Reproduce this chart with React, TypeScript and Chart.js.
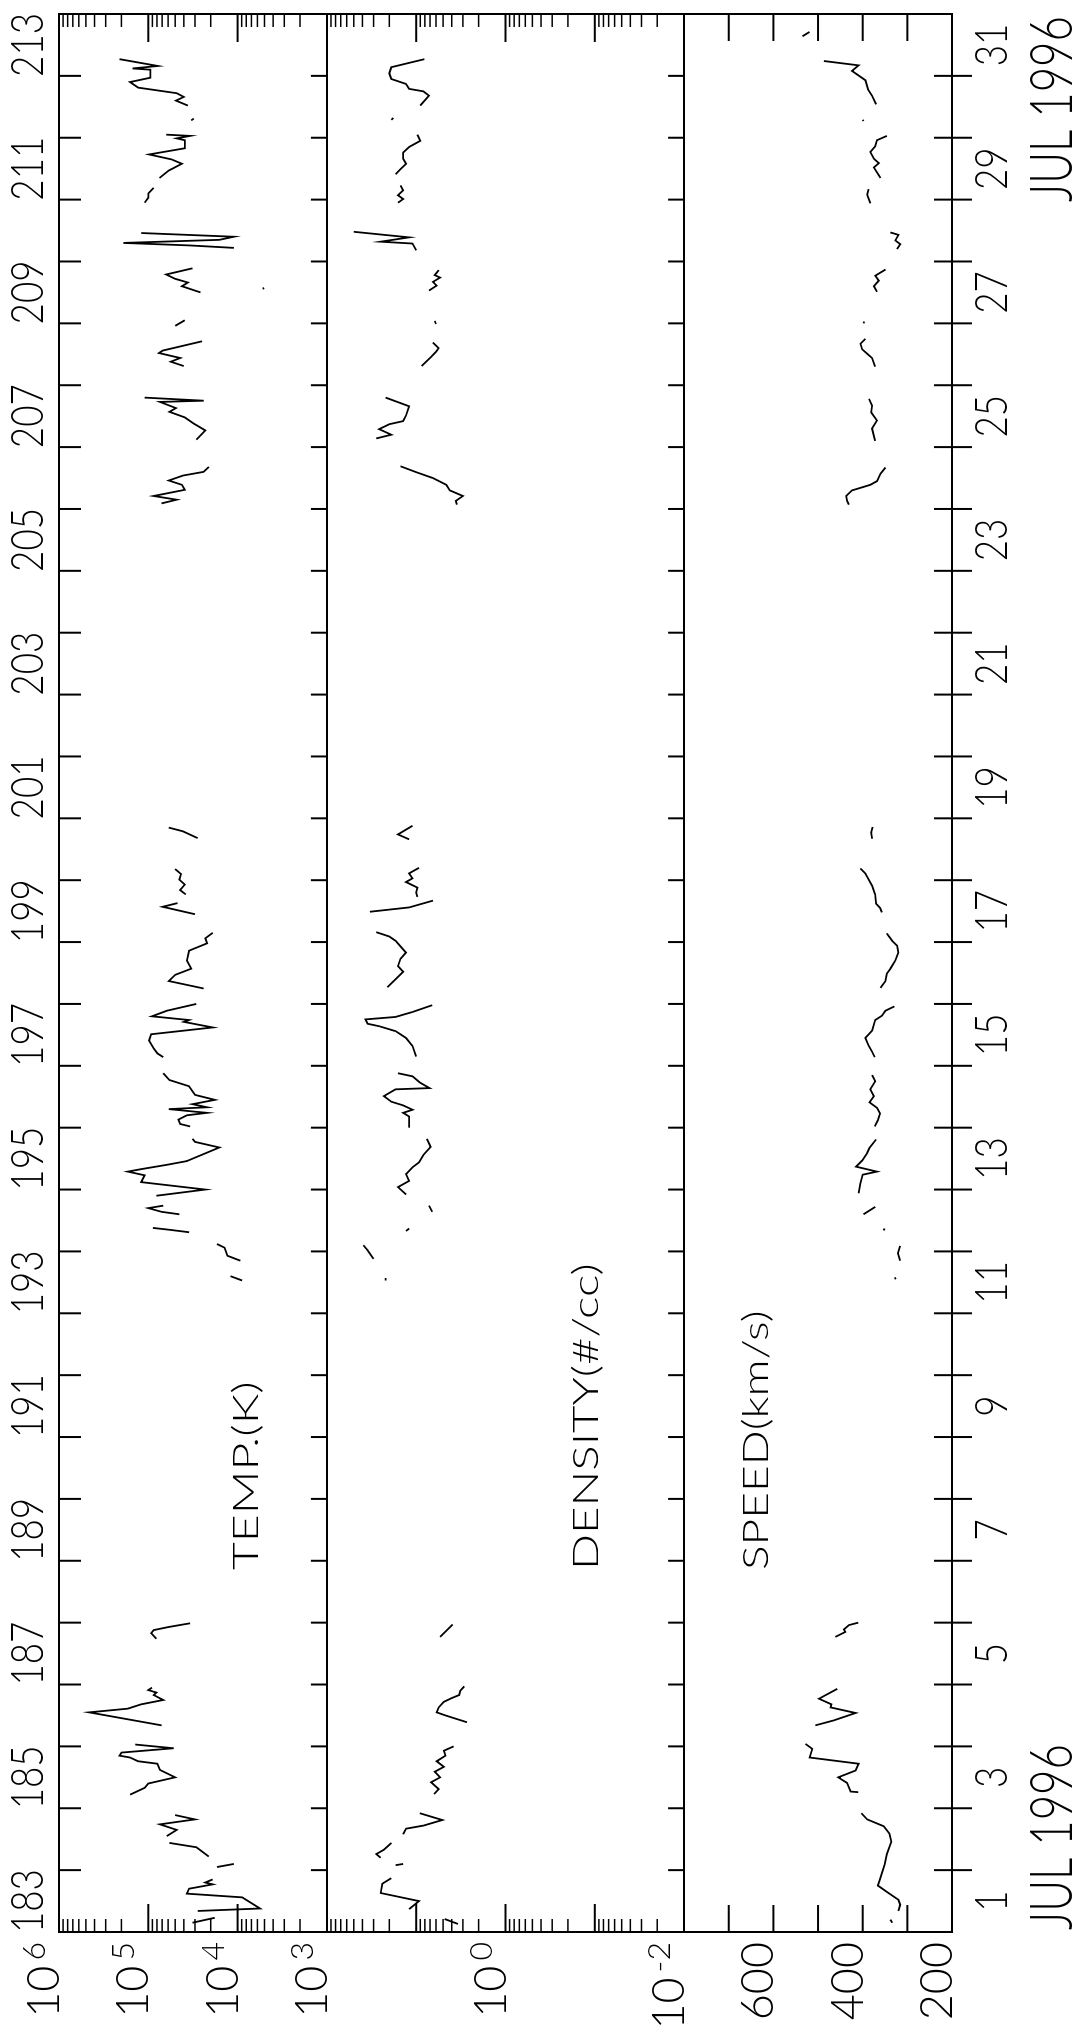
import React, { useEffect, useRef } from "react";
import { Chart, registerables } from "chart.js";

Chart.register(...registerables);

// ---------------- axis values ----------------
const dayStart = 183; // 1 Jul 1996 00:00 (day of year)
const dayEnd = 214; // 1 Aug 1996 00:00
const labelDays = [183, 185, 187, 189, 191, 193, 195, 197, 199, 201, 203, 205, 207, 209, 211, 213];
const doyLabels = ["183", "185", "187", "189", "191", "193", "195", "197", "199", "201", "203", "205", "207", "209", "211", "213"];
const dateLabels = ["1", "3", "5", "7", "9", "11", "13", "15", "17", "19", "21", "23", "25", "27", "29", "31"];
const monthLabel = "JUL 1996";

const tempRange = [1e3, 1e6];
const densityRange = [1e-2, 1e2];
const speedRange = [200, 800];

const tempTickValues = [1e6, 1e5, 1e4, 1e3];
const tempTickExps = ["6", "5", "4", "3"];
const densityTickValues = [1, 1e-2];
const densityTickExps = ["0", "-2"];
const speedTickValues = [600, 400, 200];
const speedTickLabels = ["600", "400", "200"];
const speedTickMarks = [300, 400, 500, 600, 700];

const panelTitles = ["TEMP.(K)", "DENSITY(#/cc)", "SPEED(km/s)"];

// ---------------- data (day of year, value); null = data gap ----------------
const tempDays = [
  183.15, 183.23, null,
  183.34, 183.38, 183.56, 183.62, 183.70, 183.77, 183.80, 183.85, null,
  184.05, 184.10, null,
  184.22, 184.37, 184.44, null,
  184.55, 184.65, 184.74, 184.82, 184.89, null,
  185.22, 185.33, 185.40, 185.50, 185.62, 185.72, 185.76, 185.82, 185.85, 185.90, 185.97, 186.03, null,
  186.34, 186.55, 186.61, 186.68, 186.75, 186.83, 186.87, 186.91, 186.95, null,
  187.74, 187.83, 187.88, 187.93, 187.99, null,
  193.53, 193.60, null,
  193.85, 193.93, 194.06, 194.12, null,
  194.31, 194.35, 194.38, null,
  194.60, 194.64, 194.70, 194.74, null,
  194.90, 195.00, 195.12, 195.23, 195.29, 195.33, 195.40, 195.46, 195.68, 195.77, 195.82, null,
  196.02, 196.06, 196.13, 196.20, 196.24, 196.30, 196.33, 196.38, 196.45, 196.53, 196.67, 196.77, 196.88, null,
  197.14, 197.20, 197.28, 197.41, 197.51, 197.62, 197.71, 197.74, 197.80, 197.89, 198.00, null,
  198.25, 198.37, 198.47, 198.57, 198.70, 198.86, 198.98, 199.06, 199.15, null,
  199.45, 199.57, 199.63, null,
  199.77, 199.84, 199.93, 200.01, 200.10, 200.18, null,
  200.68, 200.79, 200.85, null,
  206.09, 206.15, 206.21, 206.31, 206.39, 206.46, 206.54, 206.60, 206.68, null,
  207.12, 207.27, 207.38, 207.48, 207.57, 207.63, 207.73, 207.75, 207.80, null,
  208.31, 208.38, 208.44, 208.52, 208.56, 208.71, null,
  208.96, 209.05, null,
  209.50, 209.60, 209.66, 209.72, 209.79, 209.89, null,
  209.55, 209.58, null,
  210.22, 210.26, 210.30, 210.35, 210.40, 210.46, null,
  210.95, 211.03, 211.10, 211.19, null,
  211.35, 211.47, 211.58, 211.65, 211.73, 211.83, 211.96, 211.99, 212.03, 212.05, null,
  212.28, 212.31, null,
  212.52, 212.60, 212.66, 212.72, 212.81, 212.90, 212.97, 213.10, 213.12, 213.16, 213.27,
];
const tempKelvin = [
  32000, 18000, null,
  28000, 5600, 8900, 37000, 35000, 19000, 23000, 19000, null,
  17000, 11000, null,
  21000, 29000, 58000, null,
  62000, 48000, 74000, 30000, 50000, null,
  160000, 110000, 100000, 50000, 74000, 79000, 130000, 160000, 210000, 200000, 52000, 140000, null,
  71000, 460000, 170000, 120000, 68000, 87000, 81000, 100000, 91000, null,
  81000, 93000, 87000, 59000, 34000, null,
  8900, 12000, null,
  9300, 13000, 14000, 17000, null,
  35000, 58000, 89000, null,
  45000, 71000, 100000, 68000, null,
  81000, 23000, 120000, 110000, 170000, 120000, 62000, 37000, 16000, 30000, 32000, null,
  34000, 44000, 46000, 37000, 22000, 59000, 22000, 32000, 18000, 30000, 35000, 58000, 68000, null,
  68000, 79000, 87000, 98000, 93000, 19000, 40000, 35000, 91000, 62000, 29000, null,
  24000, 59000, 50000, 33000, 37000, 35000, 22000, 23000, 19000, null,
  30000, 69000, 47000, null,
  38000, 44000, 39000, 45000, 43000, 50000, null,
  28000, 41000, 59000, null,
  71000, 48000, 87000, 39000, 42000, 59000, 41000, 24000, 21000, null,
  29000, 23000, 31000, 39000, 58000, 49000, 74000, 24000, 110000, null,
  40000, 56000, 44000, 76000, 69000, 25000, null,
  50000, 39000, null,
  26000, 42000, 36000, 50000, 63000, 32000, null,
  5100, 5200, null,
  11000, 35000, 190000, 16000, 11000, 120000, null,
  110000, 100000, 100000, 87000, null,
  75000, 59000, 42000, 55000, 98000, 39000, 39000, 48000, 34000, 63000, null,
  33000, 31000, null,
  36000, 49000, 40000, 48000, 130000, 160000, 95000, 95000, 150000, 78000, 210000,
];

const densityDays = [
  183.13, 183.21, null,
  183.37, 183.50, 183.63, 183.78, 183.87, null,
  184.08, 184.10, null,
  184.20, 184.26, 184.33, 184.44, null,
  184.58, 184.67, 184.72, 184.81, 184.92, null,
  185.23, 185.31, 185.42, 185.50, 185.59, 185.67, 185.76, 185.85, 185.93, 186.00, null,
  186.39, 186.50, 186.55, 186.63, 186.72, 186.78, 186.83, 186.90, 186.97, null,
  187.77, 187.97, null,
  193.53, 193.57, null,
  193.88, 194.02, 194.10, null,
  194.33, 194.37, null,
  194.64, 194.74, null,
  194.92, 195.04, 195.14, 195.25, 195.36, 195.44, 195.56, 195.69, 195.82, null,
  196.00, 196.18, 196.24, 196.29, 196.36, 196.42, 196.51, 196.62, 196.64, 196.73, 196.83, 196.88, null,
  197.15, 197.32, 197.45, 197.56, 197.64, 197.68, 197.75, 197.79, 197.87, 197.98, null,
  198.27, 198.40, 198.52, 198.61, 198.73, 198.83, 198.93, 199.02, 199.09, 199.16, null,
  199.49, 199.56, 199.67, null,
  199.73, 199.80, 199.88, 199.97, 200.03, 200.11, 200.20, null,
  200.66, 200.74, 200.88, null,
  206.07, 206.13, 206.21, 206.30, 206.39, 206.50, 206.59, 206.69, null,
  207.14, 207.20, 207.29, 207.37, 207.42, 207.51, 207.66, 207.80, null,
  208.31, 208.45, 208.54, 208.60, 208.69, null,
  208.99, 209.04, null,
  209.53, 209.61, 209.67, 209.74, 209.78, 209.86, null,
  210.18, 210.29, 210.32, 210.39, 210.48, null,
  210.95, 211.01, 211.07, 211.15, 211.23, null,
  211.41, 211.49, 211.58, 211.66, 211.76, 211.85, 211.95, 212.05, null,
  212.29, 212.32, null,
  212.52, 212.68, 212.75, 212.79, 212.87, 212.95, 213.04, 213.14, 213.27,
];
const densityPerCc = [
  3.4, 4.8, null,
  12, 9.3, 25, 24, 19, null,
  17, 14, null,
  25, 28, 23, 19, null,
  14, 13, 8.3, 5.1, 9.1, null,
  6.3, 5.6, 6.8, 5.4, 6.2, 4.9, 5.9, 4.7, 4.9, 3.8, null,
  2.7, 4.7, 5.9, 5.6, 4.9, 4.0, 3.3, 3.2, 2.9, null,
  5.4, 3.9, null,
  22, 22, null,
  30, 35, 39, null,
  13, 12, null,
  6.6, 7.2, null,
  13, 16, 12, 13, 11, 9.3, 8.3, 6.9, 7.6, null,
  12, 12, 14, 11, 14, 19, 23, 17, 7.1, 9.1, 11, 16, null,
  10, 11, 13, 17, 26, 35, 37, 17, 11, 6.6, null,
  21, 17, 14, 16, 15, 13, 15, 17, 20, 28, null,
  33, 12, 6.5, null,
  9.7, 10, 9.7, 13, 11, 12, 9.3, null,
  12, 16, 11, null,
  3.5, 3.6, 3.0, 4.2, 4.6, 6.5, 9.8, 15, null,
  28, 19, 26, 20, 14, 13, 12, 22, null,
  8.7, 6.9, 6.0, 5.6, 6.5, null,
  6.0, 6.2, null,
  7.2, 5.9, 6.5, 5.4, 6.2, 5.6, null,
  10, 11, 25, 12, 50, null,
  16, 14, 16, 14, 15, null,
  17, 15, 13, 14, 14, 12, 9.0, 9.7, null,
  19, 18, null,
  9.0, 7.2, 8.3, 12, 13, 19, 20, 19, 8.1,
];

const speedDays = [
  183.15, 183.20, null,
  183.34, 183.44, 183.52, 183.63, 183.75, 183.86, 184.04, 184.09, 184.26, 184.46, 184.59, 184.71, 184.82, 184.92, null,
  185.26, 185.27, 185.41, 185.50, 185.61, 185.72, 185.82, 185.96, 186.04, null,
  186.34, 186.42, 186.54, 186.63, 186.68, 186.77, 186.93, null,
  187.77, 187.85, 187.89, 187.96, 188.00, null,
  193.55, 193.58, null,
  193.85, 193.97, 194.09, null,
  194.34, 194.37, null,
  194.60, 194.72, null,
  194.94, 195.10, 195.24, 195.29, 195.37, 195.47, 195.59, 195.67, 195.81, null,
  196.02, 196.12, 196.23, 196.32, 196.41, 196.51, 196.62, 196.75, 196.85, null,
  197.14, 197.23, 197.33, 197.45, 197.57, 197.74, 197.81, 197.89, 197.96, null,
  198.26, 198.37, 198.49, 198.57, 198.70, 198.83, 198.94, 199.02, 199.14, null,
  199.48, 199.55, 199.62, 199.77, 199.91, 200.03, 200.11, 200.19, null,
  200.67, 200.77, 200.86, null,
  206.07, 206.13, 206.21, 206.30, 206.39, 206.45, 206.57, 206.67, null,
  207.10, 207.30, 207.43, 207.56, 207.67, 207.78, null,
  208.30, 208.44, 208.51, 208.58, 208.67, 208.75, null,
  209.00, 209.03, null,
  209.51, 209.60, 209.69, 209.77, 209.87, null,
  210.20, 210.28, 210.34, 210.43, 210.47, null,
  210.94, 211.08, 211.17, null,
  211.35, 211.44, 211.52, 211.59, 211.66, 211.77, 211.86, 211.96, 212.03, null,
  212.27, 212.29, null,
  212.54, 212.68, 212.78, 212.93, 213.08, 213.17, 213.24, null,
  213.64, 213.71,
];
const speedKms = [
  334, 338, null,
  320, 316, 320, 342, 366, 361, 353, 351, 346, 336, 340, 353, 390, 403, null,
  410, 427, 435, 455, 416, 409, 519, 513, 528, null,
  506, 465, 416, 472, 470, 498, 457, null,
  461, 439, 442, 431, 410, null,
  326, 328, null,
  316, 321, 316, null,
  353, 351, null,
  398, 372, null,
  409, 405, 400, 368, 415, 401, 390, 385, 370, null,
  373, 366, 361, 368, 385, 375, 383, 372, 379, null,
  373, 379, 387, 394, 379, 372, 357, 349, 329, null,
  360, 349, 346, 338, 327, 320, 323, 334, 346, null,
  357, 361, 370, 372, 379, 388, 394, 405, null,
  379, 381, 378, null,
  431, 435, 437, 424, 383, 368, 360, 349, null,
  372, 379, 368, 381, 379, 386, null,
  372, 379, 390, 401, 405, 394, null,
  398, 397, null,
  368, 375, 364, 372, 349, null,
  323, 316, 327, 320, 338, null,
  383, 390, 387, null,
  360, 368, 375, 364, 375, 383, 372, 368, 346, null,
  398, 400, null,
  370, 379, 388, 394, 424, 409, 487, null,
  535, 519,
];

// ---------------- helpers ----------------
const CANVAS_W = 2028;
const CANVAS_H = 1073;
const FONT = 'Lato, "DejaVu Sans", sans-serif';

function toXY(days: (number | null)[], vals: (number | null)[]) {
  const out: { x: number; y: number | null }[] = [];
  let last = dayStart;
  const n = Math.min(days.length, vals.length);
  for (let i = 0; i < n; i++) {
    const d = days[i];
    const v = vals[i];
    if (d === null || v === null) out.push({ x: last, y: null });
    else {
      out.push({ x: d, y: v });
      last = d;
    }
  }
  return out;
}

function setFont(ctx: CanvasRenderingContext2D, size: number) {
  ctx.font = `300 ${size}px ${FONT}`;
}

function measure(ctx: CanvasRenderingContext2D, text: string, size: number) {
  ctx.save();
  setFont(ctx, size);
  const w = ctx.measureText(text).width;
  ctx.restore();
  return w;
}

// draws text squeezed horizontally by sx; if fitWidth is given, sx is chosen so the text spans it
function drawText(
  ctx: CanvasRenderingContext2D,
  text: string,
  x: number,
  y: number,
  size: number,
  sx: number,
  align: "left" | "right" | "center",
  fitWidth?: number
) {
  const raw = measure(ctx, text, size);
  const s = fitWidth ? fitWidth / raw : sx;
  const w = raw * s;
  let x0 = x;
  if (align === "center") x0 = x - w / 2;
  else if (align === "right") x0 = x - w;
  ctx.save();
  setFont(ctx, size);
  ctx.textAlign = "left";
  ctx.textBaseline = "alphabetic";
  ctx.translate(x0, y);
  ctx.scale(s, 1);
  ctx.fillStyle = "#000";
  ctx.fillText(text, 0, 0);
  ctx.restore();
  return w;
}

function drawPowerLabel(ctx: CanvasRenderingContext2D, exp: string, rightX: number, baseY: number) {
  const bSize = 45, eSize = 32, gap = 5;
  const wb = measure(ctx, "10", bSize);
  const we = measure(ctx, exp, eSize);
  const start = rightX - wb - we - gap;
  drawText(ctx, "10", start, baseY, bSize, 1, "left");
  drawText(ctx, exp, start + wb + gap, baseY - 14, eSize, 1, "left");
}

const framePlugin = {
  id: "plotFrame",
  beforeDraw(chart: any) {
    const ctx = chart.ctx as CanvasRenderingContext2D;
    ctx.save();
    ctx.fillStyle = "#fff";
    ctx.fillRect(0, 0, chart.width, chart.height);
    ctx.restore();
  },
  afterDraw(chart: any) {
    const ctx = chart.ctx as CanvasRenderingContext2D;
    const a = chart.chartArea;
    const xs = chart.scales.x;
    const yT = chart.scales.yTemp;
    const yD = chart.scales.yDensity;
    const yS = chart.scales.ySpeed;
    const line = (x1: number, y1: number, x2: number, y2: number, w = 2) => {
      ctx.lineWidth = w;
      ctx.beginPath();
      ctx.moveTo(x1, y1);
      ctx.lineTo(x2, y2);
      ctx.stroke();
    };
    ctx.save();
    ctx.strokeStyle = "#000";
    ctx.lineCap = "butt";

    // frame and panel separators
    ctx.lineWidth = 2;
    ctx.strokeRect(a.left, a.top, a.right - a.left, a.bottom - a.top);
    line(a.left, yT.bottom, a.right, yT.bottom);
    line(a.left, yD.bottom, a.right, yD.bottom);

    // day ticks
    for (let d = dayStart + 1; d < dayEnd; d++) {
      const px = xs.getPixelForValue(d);
      line(px, a.top, px, a.top + 22);
      line(px, yT.bottom, px, yT.bottom - 16);
      line(px, yD.bottom, px, yD.bottom - 16);
      line(px, a.bottom - 18, px, a.bottom + 20);
    }

    // logarithmic ticks (both sides)
    const logTicks = (scale: any, lo: number, hi: number) => {
      const e0 = Math.round(Math.log10(lo));
      const e1 = Math.round(Math.log10(hi));
      for (let e = e0; e < e1; e++) {
        for (let k = 1; k <= 9; k++) {
          if (e === e0 && k === 1) continue;
          const v = k * Math.pow(10, e);
          const py = scale.getPixelForValue(v);
          const major = k === 1;
          const len = major ? 28 : 13;
          const w = major ? 2 : 1.5;
          line(a.left, py, a.left + len, py, w);
          line(a.right, py, a.right - len, py, w);
        }
      }
    };
    logTicks(yT, tempRange[0], tempRange[1]);
    logTicks(yD, densityRange[0], densityRange[1]);
    for (const v of speedTickMarks) {
      const py = yS.getPixelForValue(v);
      line(a.left, py, a.left + 27, py);
      line(a.right, py, a.right - 27, py);
    }
    ctx.restore();

    // ---- text ----
    labelDays.forEach((d, i) => {
      const px = xs.getPixelForValue(d + 0.5);
      drawText(ctx, doyLabels[i], px, 43, 46, 0.8, "center");
      drawText(ctx, dateLabels[i], px, 1007, 46, 0.8, "center");
    });
    drawText(ctx, monthLabel, a.left + 2, 1072, 60, 1, "left", 186);
    drawText(ctx, monthLabel, a.right - 2, 1072, 60, 1, "right", 186);

    const labelRight = 86;
    tempTickValues.forEach((v, i) => drawPowerLabel(ctx, tempTickExps[i], labelRight, yT.getPixelForValue(v)));
    densityTickValues.forEach((v, i) => drawPowerLabel(ctx, densityTickExps[i], labelRight, yD.getPixelForValue(v)));
    speedTickValues.forEach((v, i) =>
      drawText(ctx, speedTickLabels[i], labelRight, yS.getPixelForValue(v), 45, 1, "right")
    );

    const titleX = xs.getPixelForValue(188.85);
    const adv = 23.6;
    drawText(ctx, panelTitles[0], titleX, yT.bottom - 69, 35, 1, "left", adv * panelTitles[0].length);
    drawText(ctx, panelTitles[1], titleX, yD.bottom - 86, 35, 1, "left", adv * panelTitles[1].length);
    drawText(ctx, panelTitles[2], titleX, yS.top + 84, 35, 1, "left", adv * panelTitles[2].length);
  },
};

export default function App() {
  const ref = useRef<HTMLCanvasElement | null>(null);
  useEffect(() => {
    if (!ref.current) return;
    const lineStyle = {
      borderColor: "#000",
      borderWidth: 1.8,
      pointRadius: 0,
      pointHoverRadius: 0,
      spanGaps: false,
      tension: 0,
      fill: false,
    };
    const chart = new Chart(ref.current, {
      type: "line",
      data: {
        datasets: [
          { ...lineStyle, label: panelTitles[0], data: toXY(tempDays, tempKelvin), yAxisID: "yTemp" },
          { ...lineStyle, label: panelTitles[1], data: toXY(densityDays, densityPerCc), yAxisID: "yDensity" },
          { ...lineStyle, label: panelTitles[2], data: toXY(speedDays, speedKms), yAxisID: "ySpeed" },
        ],
      } as any,
      options: {
        responsive: false,
        animation: false,
        devicePixelRatio: 1,
        events: [],
        layout: { autoPadding: false, padding: { left: 96, right: 14, top: 59, bottom: 121 } },
        plugins: { legend: { display: false }, tooltip: { enabled: false }, title: { display: false } },
        scales: {
          x: { type: "linear", min: dayStart, max: dayEnd, display: false },
          ySpeed: {
            type: "linear", min: speedRange[0], max: speedRange[1], display: false,
            position: "left", stack: "panels", stackWeight: 3, weight: 1,
          },
          yDensity: {
            type: "logarithmic", min: densityRange[0], max: densityRange[1], display: false,
            position: "left", stack: "panels", stackWeight: 4, weight: 2,
          },
          yTemp: {
            type: "logarithmic", min: tempRange[0], max: tempRange[1], display: false,
            position: "left", stack: "panels", stackWeight: 3, weight: 3,
          },
        },
      } as any,
      plugins: [framePlugin],
    });
    return () => chart.destroy();
  }, []);

  return (
    <div
      style={{
        position: "absolute",
        left: 0,
        top: 0,
        width: 1073,
        height: 2028,
        overflow: "hidden",
        background: "#fff",
      }}
    >
      <canvas
        ref={ref}
        width={CANVAS_W}
        height={CANVAS_H}
        style={{
          position: "absolute",
          left: 0,
          top: 0,
          width: CANVAS_W,
          height: CANVAS_H,
          transformOrigin: "0 0",
          transform: `translateY(${CANVAS_W}px) rotate(-90deg)`,
        }}
      />
    </div>
  );
}
